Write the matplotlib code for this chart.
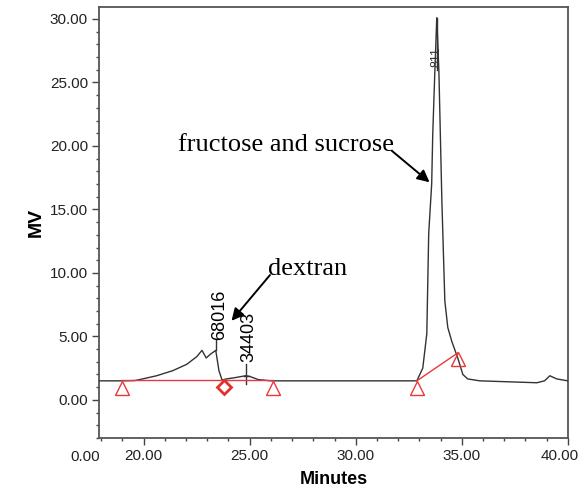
import matplotlib
matplotlib.use("Agg")
import matplotlib.pyplot as plt
from matplotlib.ticker import MultipleLocator, FixedLocator
from matplotlib.transforms import ScaledTranslation

# chromatogram trace (minutes, mV)
minutes = [17.92, 19.0, 19.58, 19.81, 20.61, 21.37, 22.03, 22.50, 22.75, 22.95,
           23.15, 23.40, 23.55, 23.70, 23.90, 24.30, 24.80, 25.00, 25.40, 26.00,
           32.88, 33.16, 33.35, 33.44, 33.58, 33.63, 33.73, 33.82, 33.92, 34.06,
           34.20, 34.34, 34.53, 34.81, 35.05, 35.28, 35.85, 38.54, 38.90, 39.15,
           39.48, 40.00]
signal = [1.50, 1.50, 1.52, 1.60, 1.90, 2.30, 2.80, 3.40, 3.90, 3.30,
          3.60, 3.90, 2.30, 1.55, 1.65, 1.75, 1.90, 1.85, 1.60, 1.50,
          1.50, 2.50, 5.20, 13.1, 17.0, 20.9, 25.9, 30.1, 25.9, 15.7,
          7.80, 5.70, 4.60, 3.30, 2.00, 1.65, 1.50, 1.35, 1.50, 1.90,
          1.65, 1.50]

# integration baselines and their start/end markers
base1_x = [18.96, 26.08]
base1_y = [1.55, 1.55]
base2_x = [32.88, 34.81]
base2_y = [1.50, 3.70]
tri_x = [18.96, 26.08, 32.88, 34.81]
tri_y = [0.95, 0.95, 0.95, 3.20]
dia_x = [23.77]
dia_y = [1.02]

y_ticks = [0, 5, 10, 15, 20, 25, 30]
x_ticks = [20, 25, 30, 35, 40]

sans = ["Liberation Sans", "DejaVu Sans"]
serif = ["Liberation Serif", "DejaVu Serif"]
plt.rcParams["font.family"] = sans

fig = plt.figure(figsize=(5.83, 4.94), dpi=100)
ax = fig.add_axes([0.170, 0.1134, 0.804, 0.8726])

ax.plot(minutes, signal, color="#333333", lw=1.0, zorder=3)
ax.plot(base1_x, base1_y, color="#e8383d", lw=1.0, zorder=4)
ax.plot(base2_x, base2_y, color="#e8383d", lw=1.0, zorder=4)
ax.plot(tri_x, tri_y, ls="none", marker="^", ms=10, mfc="none",
        mec="#e8383d", mew=1.0, zorder=5)
ax.plot(dia_x, dia_y, ls="none", marker="D", ms=7, mfc="none",
        mec="#e03030", mew=2.0, zorder=5)

# peak tick lines and rotated labels
ax.plot([23.40, 23.40], [3.9, 4.8], color="#333333", lw=1.0)
ax.text(23.56, 4.75, "68016", rotation=90, ha="center", va="bottom", fontsize=13)
ax.plot([24.84, 24.84], [1.25, 2.85], color="#333333", lw=1.0)
ax.plot([24.72, 24.96], [1.9, 1.9], color="#333333", lw=1.0)
ax.text(24.98, 3.0, "34403", rotation=90, ha="center", va="bottom", fontsize=13)
ax.plot([33.82, 33.82], [26.0, 30.1], color="#333333", lw=1.0)
ax.text(33.82, 27.0, "811", rotation=90, ha="center", va="center",
        fontsize=9, color="#333333")

ax.annotate("", xy=(24.06, 6.06), xytext=(26.04, 10.0),
            arrowprops=dict(arrowstyle="-|>", color="black", lw=1.4,
                            mutation_scale=18))
ax.text(25.85, 9.8, "dextran", family=serif, fontsize=19, ha="left", va="baseline")
ax.annotate("", xy=(33.58, 17.0), xytext=(31.60, 19.76),
            arrowprops=dict(arrowstyle="-|>", color="black", lw=1.4,
                            mutation_scale=18))
ax.text(21.60, 19.6, "fructose and sucrose", family=serif, fontsize=19,
        ha="left", va="baseline")

ax.set_xlim(17.9, 40.0)
ax.set_ylim(-3.0, 30.95)

ax.yaxis.set_major_locator(FixedLocator(y_ticks))
ax.yaxis.set_minor_locator(MultipleLocator(1.0))
ax.xaxis.set_major_locator(FixedLocator(x_ticks))
ax.xaxis.set_minor_locator(MultipleLocator(1.0))
ax.set_yticklabels([f"{v:.2f}" for v in y_ticks])
ax.set_xticklabels([f"{v:.2f}" for v in x_ticks])
ax.text(17.95, -0.044, "0.00", transform=ax.get_xaxis_transform(),
        ha="right", va="center", fontsize=11, color="#222222")

ax.tick_params(which="major", direction="out", length=5, width=1.0,
               labelsize=11, colors="#444444", labelcolor="#222222", pad=3)
ax.tick_params(which="minor", direction="out", length=2.5, width=1.0,
               colors="#444444")

# last x label sits a little left of its tick, like the original
last = ax.get_xticklabels()[-1]
last.set_transform(last.get_transform() + ScaledTranslation(-8 / 100, 0, fig.dpi_scale_trans))

for s in ax.spines.values():
    s.set_color("#555555")
    s.set_linewidth(1.3)

ax.set_ylabel("MV", fontsize=14, fontweight="bold", labelpad=4)
ax.set_xlabel("Minutes", fontsize=13, fontweight="bold", labelpad=6)

fig.savefig("out.png", dpi=100)
